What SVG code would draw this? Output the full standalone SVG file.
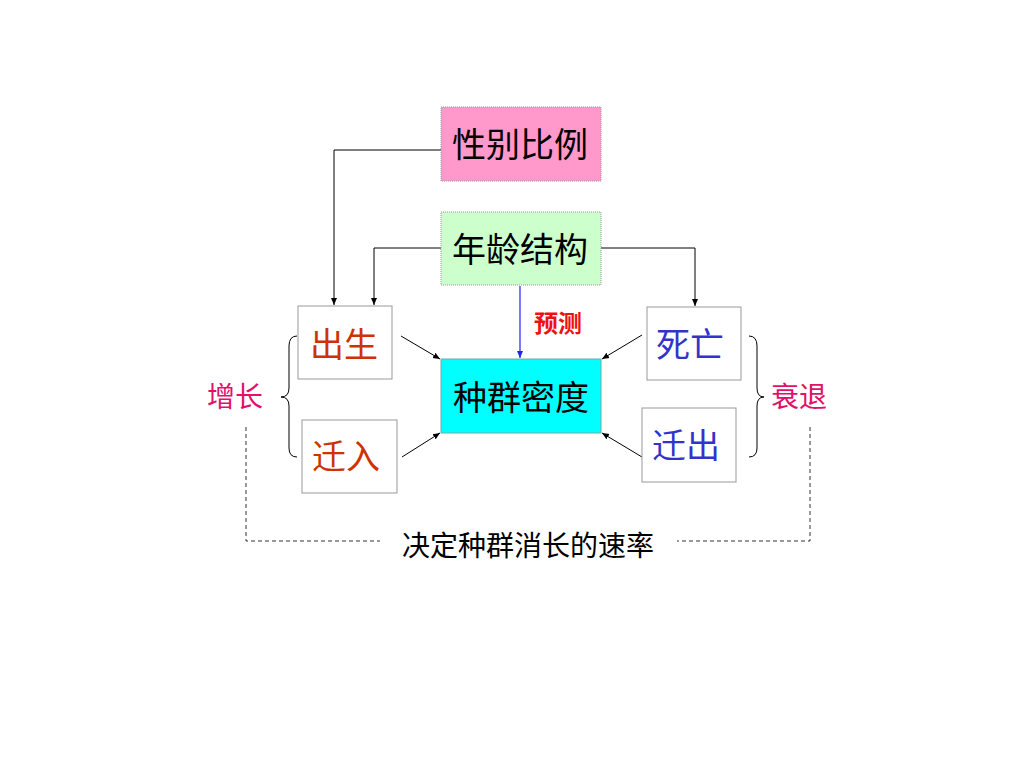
<svg xmlns="http://www.w3.org/2000/svg" width="1024" height="768" viewBox="0 0 1024 768">
<style>
text{font-family:"Liberation Sans","Noto Sans CJK SC",sans-serif;text-anchor:middle;dominant-baseline:central}
.big{font-size:34px}
.top{stroke:#999;stroke-width:1;stroke-dasharray:1 1}
.sm{fill:#fff;stroke:#999;stroke-width:1}
.ln{stroke:#000;stroke-width:1;fill:none}
.dash{stroke:#333;stroke-width:1;fill:none;stroke-dasharray:4 3}
</style>
<defs>
<marker id="ah" markerWidth="8" markerHeight="8" refX="7" refY="4" orient="auto" markerUnits="userSpaceOnUse">
<path d="M0,1 L7,4 L0,7 Z" fill="#000"/>
</marker>
<marker id="ahb" markerWidth="8" markerHeight="8" refX="7" refY="4" orient="auto" markerUnits="userSpaceOnUse">
<path d="M0,1 L7,4 L0,7 Z" fill="#2222ee"/>
</marker>
</defs>
<rect width="1024" height="768" fill="#fff"/>
<g id="connectors">
<polyline class="ln" points="441,150 334,150 334,305" marker-end="url(#ah)"/>
<polyline class="ln" points="441,248 374,248 374,305" marker-end="url(#ah)"/>
<polyline class="ln" points="601,248 695,248 695,306" marker-end="url(#ah)"/>
<line x1="520" y1="286" x2="520" y2="358" stroke="#2222ee" stroke-width="1.2" marker-end="url(#ahb)"/>
<line class="ln" x1="401" y1="336" x2="440" y2="359" marker-end="url(#ah)"/>
<line class="ln" x1="402" y1="457" x2="440" y2="433" marker-end="url(#ah)"/>
<line class="ln" x1="642" y1="335" x2="602" y2="359" marker-end="url(#ah)"/>
<line class="ln" x1="642" y1="457" x2="602" y2="433" marker-end="url(#ah)"/>
<path class="ln" d="M297,336 Q289,336 289,346 L289,388 Q289,397 281,397 Q289,397 289,406 L289,448 Q289,457 297,457"/>
<path class="ln" d="M749,336 Q757,336 757,346 L757,388 Q757,397 764,397 Q757,397 757,406 L757,448 Q757,457 749,457"/>
<polyline class="dash" points="246,427 246,541 380,541"/>
<polyline class="dash" points="810,427 810,541 677,541"/>
</g>
<g id="sex-ratio">
<rect class="top" x="441" y="107" width="160" height="74" fill="#FF99CC"/>
<text class="big" x="520" y="145" fill="#000">性别比例</text>
</g>
<g id="age-structure">
<rect class="top" x="441" y="212" width="160" height="73" fill="#CCFFCC"/>
<text class="big" x="520" y="250" fill="#000">年龄结构</text>
</g>
<g id="density">
<rect x="441" y="359" width="160" height="74" fill="#00FFFF" stroke="#7aa" stroke-width="1"/>
<text class="big" x="521" y="398" fill="#000">种群密度</text>
</g>
<g id="birth">
<rect class="sm" x="298" y="306" width="94" height="73"/>
<text class="big" x="344" y="345" fill="#CC3300">出生</text>
</g>
<g id="immigration">
<rect class="sm" x="302" y="420" width="95" height="73"/>
<text class="big" x="346" y="457" fill="#CC3300">迁入</text>
</g>
<g id="death">
<rect class="sm" x="647" y="307" width="94" height="73"/>
<text class="big" x="690" y="345" fill="#3333CC">死亡</text>
</g>
<g id="emigration">
<rect class="sm" x="642" y="408" width="94" height="74"/>
<text class="big" x="686" y="446" fill="#3333CC">迁出</text>
</g>
<g id="labels">
<text x="558" y="323" font-size="24" font-weight="bold" fill="#EE1111">预测</text>
<text x="235" y="397" font-size="28" fill="#E0116A">增长</text>
<text x="799" y="397" font-size="28" fill="#E0116A">衰退</text>
<text x="528" y="546" font-size="28" fill="#000">决定种群消长的速率</text>
</g>
</svg>
